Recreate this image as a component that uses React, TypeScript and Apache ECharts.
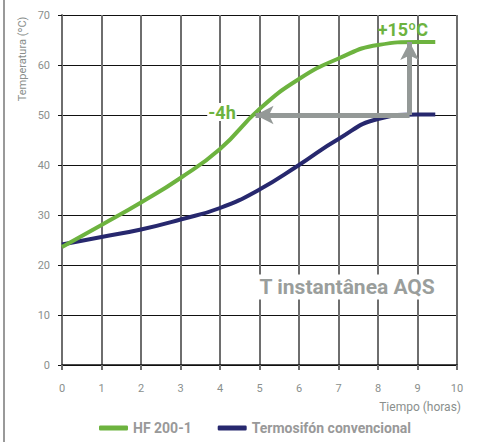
import React, { useEffect, useRef } from "react";
import * as echarts from "echarts";

const hours = [0, 1, 2, 3, 4, 5, 6, 7, 8, 9, 9.45];
const hf200 = [23.6, 28, 32.5, 37.4, 43.2, 51.2, 57.2, 61.3, 64, 64.6, 64.6];
const termo = [24.1, 25.6, 27.1, 29.1, 31.4, 35.1, 40, 45.2, 49.2, 50.1, 50.1];
const xTicks = [0, 1, 2, 3, 4, 5, 6, 7, 8, 9, 10];
const yTicks = [0, 10, 20, 30, 40, 50, 60, 70];
const arrowCorner = [8.8, 50];
const arrowLeftTip = [4.9, 50];
const arrowTopTip = [8.8, 64.6];

const FONT = "Roboto, 'DejaVu Sans', sans-serif";
const GREEN = "#6db33f";
const BLUE = "#27286e";
const GRAYTXT = "#8a8f8d";
const ARROW = "#949997";

export default function App() {
  const ref = useRef<HTMLDivElement>(null);
  useEffect(() => {
    const chart = echarts.init(ref.current!, null, { renderer: "svg" });
    chart.setOption({
      animation: false,
      textStyle: { fontFamily: FONT },
      grid: { left: 62, right: 20, top: 15, bottom: 77 },
      xAxis: {
        type: "value",
        min: xTicks[0],
        max: xTicks[xTicks.length - 1],
        interval: 1,
        axisLine: { show: true, lineStyle: { color: "#111", width: 1.5 } },
        axisTick: { show: true, length: 5, lineStyle: { color: "#6e6e6e", width: 2 } },
        axisLabel: { color: GRAYTXT, fontSize: 11, margin: 18, fontFamily: FONT },
        splitLine: { show: true, lineStyle: { color: "#6e6e6e", width: 2 } },
      },
      yAxis: {
        type: "value",
        min: yTicks[0],
        max: yTicks[yTicks.length - 1],
        interval: 10,
        axisLine: { show: true, lineStyle: { color: "#6e6e6e", width: 2 } },
        axisTick: { show: true, length: 4, lineStyle: { color: "#111", width: 1 } },
        axisLabel: { color: GRAYTXT, fontSize: 11, margin: 12, fontFamily: FONT },
        splitLine: { show: true, lineStyle: { color: "#111", width: 1.2 } },
      },
      legend: {
        bottom: 2,
        left: 94,
        itemWidth: 29,
        itemHeight: 5,
        itemGap: 26,
        icon: "roundRect",
        textStyle: { color: "#999", fontWeight: "bold", fontSize: 14, fontFamily: FONT },
        data: ["HF 200-1", "Termosifón convencional"],
      },
      graphic: [
        {
          type: "line",
          shape: { x1: 4, y1: 0, x2: 4, y2: 442 },
          style: { stroke: "#777", lineWidth: 1.5 },
        },
        {
          type: "text",
          x: 22,
          y: 59,
          rotation: Math.PI / 2,
          style: {
            text: "Temperatura (ºC)",
            fill: GRAYTXT,
            fontSize: 11,
            fontFamily: FONT,
            align: "center",
            verticalAlign: "middle",
          },
        },
        {
          type: "text",
          right: 16,
          top: 401,
          style: { text: "Tiempo (horas)", fill: GRAYTXT, fontSize: 12, fontFamily: FONT },
        },
      ],
      series: [
        {
          name: "HF 200-1",
          type: "line",
          smooth: 0.5,
          showSymbol: false,
          lineStyle: { color: GREEN, width: 4 },
          itemStyle: { color: GREEN },
          data: hours.map((h, i) => [h, hf200[i]]),
          z: 3,
          markPoint: {
            symbol: "circle",
            symbolSize: 0,
            silent: true,
            data: [
              {
                coord: [8.63, 67.2],
                label: {
                  show: true,
                  formatter: "+15ºC",
                  color: GREEN,
                  fontSize: 18,
                  fontWeight: "bold",
                  fontFamily: FONT,
                },
              },
              {
                coord: [4.05, 50.6],
                label: {
                  show: true,
                  formatter: "-4h",
                  color: GREEN,
                  fontSize: 18,
                  fontWeight: "bold",
                  fontFamily: FONT,
                  backgroundColor: "#fff",
                  padding: [0, 1],
                },
              },
              {
                coord: [7.22, 15.6],
                label: {
                  show: true,
                  formatter: "T instantânea AQS",
                  color: "#9a9e9c",
                  fontSize: 21,
                  fontWeight: "bold",
                  fontFamily: FONT,
                  backgroundColor: "#fff",
                  padding: [2, 4],
                },
              },
            ],
          },
        },
        {
          name: "Termosifón convencional",
          type: "line",
          smooth: 0.5,
          showSymbol: false,
          lineStyle: { color: BLUE, width: 4 },
          itemStyle: { color: BLUE },
          data: hours.map((h, i) => [h, termo[i]]),
          z: 2,
          markLine: {
            silent: true,
            symbol: ["none", "arrow"],
            symbolSize: [14, 18],
            label: { show: false },
            lineStyle: { color: ARROW, width: 5, type: "solid" },
            emphasis: { disabled: true },
            data: [
              [{ coord: arrowCorner }, { coord: arrowLeftTip }],
              [{ coord: arrowCorner }, { coord: arrowTopTip }],
            ],
          },
        },
      ],
    });
    return () => chart.dispose();
  }, []);
  return <div ref={ref} style={{ width: 477, height: 442, position: "absolute", left: 0, top: 0 }} />;
}
